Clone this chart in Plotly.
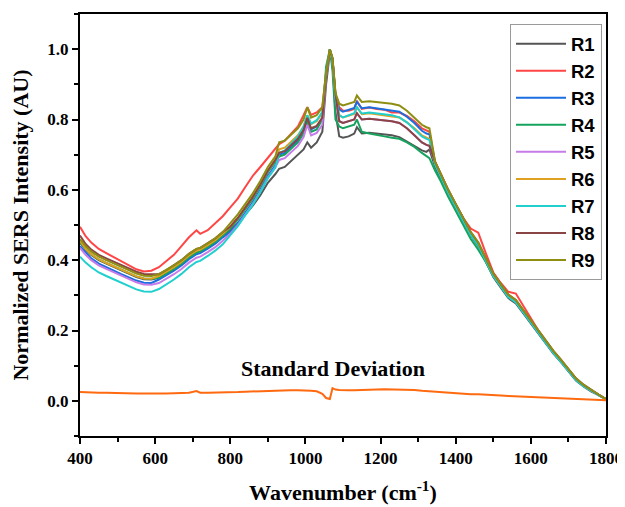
import plotly.graph_objects as go

wavenumber = [400,415,430,450,470,490,510,530,550,570,590,610,630,650,670,690,710,720,740,760,780,
              800,820,840,860,880,900,920,930,945,960,980,995,1005,1015,1030,1045,1055,1065,1072,1080,
              1090,1100,1115,1130,1137,1150,1170,1190,1210,1230,1250,1270,1290,1310,1322,1330,
              1345,1360,1380,1400,1420,1440,1460,1480,1500,1520,1540,1560,1580,1600,1620,1640,1660,
              1680,1700,1720,1740,1760,1780,1800]

R1 = [.450,.430,.415,.400,.390,.380,.370,.360,.352,.346,.345,.350,.362,.375,.390,.408,.422,.425,.438,.452,.468,
      .485,.505,.530,.555,.585,.620,.645,.660,.665,.680,.700,.715,.735,.720,.735,.765,.900,.990,.960,.820,
      .752,.748,.752,.760,.778,.760,.762,.760,.758,.755,.750,.738,.725,.712,.708,.715,
      .665,.632,.590,.550,.510,.470,.440,.395,.352,.322,.292,.277,.248,.222,.192,.162,.134,
      .110,.085,.058,.041,.027,.016,.004]
R2 = [.495,.468,.450,.432,.420,.408,.396,.385,.374,.368,.370,.380,.397,.415,.440,.465,.485,.475,.485,.504,.525,
      .550,.575,.608,.640,.665,.690,.715,.730,.740,.758,.780,.812,.835,.813,.820,.835,.935,.995,.970,.870,
      .835,.825,.825,.830,.853,.830,.834,.830,.828,.820,.820,.810,.795,.775,.770,.765,
      .680,.645,.600,.558,.520,.490,.478,.420,.365,.335,.310,.305,.270,.235,.200,.170,.140,
      .115,.090,.063,.045,.030,.018,.005]
R3 = [.440,.421,.405,.390,.379,.370,.360,.350,.342,.336,.335,.345,.357,.370,.385,.403,.417,.420,.433,.447,.465,
      .480,.505,.535,.565,.600,.640,.670,.700,.705,.720,.740,.765,.795,.772,.780,.805,.925,1.000,.972,.865,
      .828,.822,.828,.833,.850,.832,.835,.832,.830,.826,.822,.808,.790,.768,.760,.758,
      .675,.640,.595,.555,.515,.476,.447,.402,.358,.328,.298,.282,.254,.228,.198,.168,.139,
      .114,.089,.062,.044,.030,.017,.005]
R4 = [.452,.432,.417,.402,.392,.382,.372,.362,.354,.348,.347,.350,.362,.375,.390,.408,.422,.425,.438,.452,.470,
      .490,.515,.545,.575,.610,.650,.680,.695,.700,.715,.735,.760,.795,.765,.772,.800,.950,1.000,.940,.800,
      .780,.775,.780,.785,.800,.765,.760,.755,.752,.748,.745,.735,.722,.705,.695,.690,
      .655,.625,.580,.540,.500,.460,.430,.395,.355,.326,.296,.281,.252,.226,.196,.166,.137,
      .112,.087,.060,.043,.029,.017,.005]
R5 = [.435,.415,.400,.385,.375,.365,.355,.345,.337,.331,.330,.335,.347,.360,.375,.393,.407,.410,.423,.437,.455,
      .475,.500,.530,.560,.595,.635,.665,.685,.690,.705,.725,.750,.785,.755,.762,.785,.920,.995,.968,.860,
      .795,.790,.795,.800,.818,.800,.802,.800,.798,.795,.790,.775,.755,.735,.728,.725,
      .677,.642,.597,.557,.517,.477,.447,.402,.359,.329,.299,.284,.255,.229,.199,.169,.139,
      .114,.089,.062,.044,.029,.017,.005]
R6 = [.455,.432,.417,.402,.392,.382,.372,.362,.354,.348,.347,.355,.367,.380,.395,.413,.427,.430,.443,.457,.475,
      .495,.520,.550,.580,.615,.655,.685,.715,.720,.735,.755,.780,.812,.787,.795,.818,.928,.998,.972,.868,
      .812,.806,.810,.816,.835,.815,.818,.815,.813,.810,.806,.792,.775,.755,.748,.745,
      .675,.640,.595,.555,.515,.476,.446,.400,.357,.327,.297,.282,.253,.228,.198,.168,.138,
      .113,.088,.061,.043,.029,.017,.005]
R7 = [.410,.393,.380,.365,.355,.345,.335,.325,.317,.311,.310,.318,.331,.345,.361,.380,.395,.398,.412,.427,.445,
      .472,.497,.528,.558,.593,.633,.663,.705,.712,.728,.752,.780,.812,.788,.798,.822,.932,1.000,.970,.862,
      .812,.806,.812,.818,.835,.817,.820,.817,.815,.812,.806,.792,.772,.752,.745,.742,
      .672,.637,.592,.552,.512,.472,.442,.397,.355,.325,.295,.280,.251,.225,.195,.165,.136,
      .111,.086,.059,.042,.028,.016,.005]
R8 = [.470,.446,.430,.415,.405,.395,.385,.375,.367,.361,.360,.360,.372,.385,.400,.418,.432,.435,.448,.462,.480,
      .495,.520,.550,.580,.615,.655,.685,.705,.710,.725,.745,.770,.805,.775,.782,.805,.925,.998,.975,.872,
      .795,.790,.795,.800,.818,.800,.802,.800,.798,.795,.790,.775,.755,.735,.728,.725,
      .680,.645,.600,.560,.520,.480,.450,.405,.362,.332,.302,.287,.258,.232,.202,.172,.142,
      .117,.092,.064,.046,.031,.018,.005]
R9 = [.460,.440,.425,.410,.400,.390,.380,.370,.362,.356,.355,.360,.372,.385,.400,.418,.432,.435,.448,.462,.480,
      .505,.530,.560,.590,.625,.665,.695,.735,.740,.755,.775,.800,.835,.805,.812,.835,.930,1.000,.975,.875,
      .845,.840,.845,.850,.868,.850,.852,.850,.848,.845,.840,.825,.805,.785,.778,.775,
      .680,.645,.600,.560,.520,.480,.450,.405,.362,.332,.302,.287,.258,.232,.202,.172,.142,
      .117,.092,.064,.046,.031,.018,.005]
std_dev = [.025,.024,.024,.023,.023,.022,.022,.021,.021,.021,.020,.021,.021,.022,.022,.023,.028,.023,.023,.023,.024,
           .025,.025,.026,.027,.027,.028,.028,.029,.030,.030,.030,.030,.031,.029,.027,.020,.008,.005,.036,.032,
           .031,.030,.030,.030,.030,.030,.031,.032,.033,.033,.032,.032,.031,.029,.028,.028,
           .026,.025,.023,.021,.020,.019,.019,.017,.016,.015,.014,.013,.013,.012,.011,.010,.009,
           .008,.007,.006,.005,.004,.003,.002]

series_names = ["R1","R2","R3","R4","R5","R6","R7","R8","R9"]
series_values = [R1,R2,R3,R4,R5,R6,R7,R8,R9]
series_colors = ["#555555","#ff4545","#1a6ee0","#16a35e","#c77be8","#e0a020","#22cfcf","#8a4444","#8e8e12"]

x_ticks = [400, 600, 800, 1000, 1200, 1400, 1600, 1800]
y_ticks = [0.0, 0.2, 0.4, 0.6, 0.8, 1.0]

fig = go.Figure()
for name, vals, col in zip(series_names, series_values, series_colors):
    fig.add_trace(go.Scatter(x=wavenumber, y=vals, mode="lines", name=name,
                             line=dict(color=col, width=2)))
fig.add_trace(go.Scatter(x=wavenumber, y=std_dev, mode="lines", name="Standard Deviation",
                         line=dict(color="#ff6a10", width=2), showlegend=False))

serif = "Liberation Serif"
# the page body adds an 8px offset, so the figure is 8px smaller than the window
fig.update_layout(
    width=617, height=499,
    margin=dict(l=72, r=19, t=6, b=71),
    paper_bgcolor="white", plot_bgcolor="white",
    showlegend=True,
    legend=dict(x=0.8175, y=0.976, xanchor="left", yanchor="top",
                bgcolor="white", bordercolor="#9a9a9a", borderwidth=1,
                font=dict(family="Liberation Sans", size=18.5, color="black", weight="bold"),
                itemwidth=50, tracegroupgap=0),
    annotations=[dict(text="<b>Standard Deviation</b>", xref="paper", yref="paper",
                      x=0.481, y=0.159, xanchor="center", yanchor="middle", showarrow=False,
                      font=dict(family=serif, size=22, color="black"))],
)
fig.update_xaxes(range=[400, 1800], tickvals=x_ticks, ticktext=["<b>%d</b>" % v for v in x_ticks],
                 showgrid=False, zeroline=False, automargin=False,
                 showline=True, linecolor="black", linewidth=2, mirror=True,
                 ticks="outside", ticklen=6, tickwidth=2, tickcolor="black",
                 minor=dict(tickvals=[500, 700, 900, 1100, 1300, 1500, 1700], ticks="outside", ticklen=4,
                            tickwidth=2, tickcolor="black"),
                 tickfont=dict(family=serif, size=17, color="black"),
                 title=dict(text="<b>Wavenumber (cm<sup>-1</sup>)</b>",
                            font=dict(family=serif, size=22, color="black"), standoff=17))
fig.update_yaxes(range=[-0.1, 1.1], tickvals=y_ticks, ticktext=["<b>%.1f</b>" % v for v in y_ticks],
                 showgrid=False, zeroline=False, automargin=False,
                 showline=True, linecolor="black", linewidth=2, mirror=True,
                 ticks="outside", ticklen=6, tickwidth=2, tickcolor="black",
                 minor=dict(tickvals=[-0.1, 0.1, 0.3, 0.5, 0.7, 0.9, 1.1], ticks="outside", ticklen=4,
                            tickwidth=2, tickcolor="black"),
                 tickfont=dict(family=serif, size=17, color="black"),
                 title=dict(text="<b>Normalized SERS Intensity (AU)</b>",
                            font=dict(family=serif, size=22, color="black"), standoff=13))

fig.write_html("out.html")
